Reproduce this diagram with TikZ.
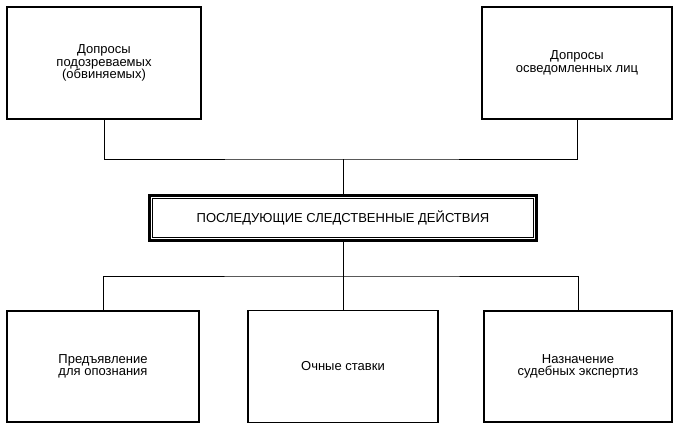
\documentclass[tikz,border=0pt]{standalone}
\usepackage{fontspec}
\setmainfont{Liberation Sans}
\begin{document}
\begin{tikzpicture}[x=1pt,y=-1pt,
  every node/.style={font=\fontsize{13}{12.5}\selectfont},
  boxnode/.style={draw,line width=1.1pt,inner sep=0pt,align=center,anchor=center},
  link/.style={line width=1pt}]
\useasboundingbox (0,0) rectangle (677,429);
\fill[white] (0,0) rectangle (677,429);
\node[boxnode,minimum width=194pt,minimum height=112pt] (tl) at (104,63) {Допросы\\подозреваемых\\(обвиняемых)};
\node[boxnode,minimum width=190pt,minimum height=112pt] (tr) at (577,63) {Допросы\\осведомленных лиц};
\node[draw,line width=3pt,inner sep=0pt,minimum width=387pt,minimum height=45pt,anchor=center] (c) at (343,218) {ПОСЛЕДУЮЩИЕ СЛЕДСТВЕННЫЕ ДЕЙСТВИЯ};
\draw[line width=1.1pt] ([xshift=4.8pt,yshift=-4.8pt]c.north west) rectangle ([xshift=-4.8pt,yshift=4.8pt]c.south east);
\node[boxnode,minimum width=192pt,minimum height=111pt] (bl) at (103,366.5) {Предъявление\\для опознания};
\node[boxnode,minimum width=190pt,minimum height=112pt] (bm) at (343,366.5) {Очные ставки};
\node[boxnode,minimum width=188pt,minimum height=111pt] (br) at (578,366.5) {Назначение\\судебных экспертиз};
\coordinate (hubtop) at (343,159);
\coordinate (hubbot) at (343,276);
\draw[link] (tl.south) |- (hubtop) -| (tr.south);
\draw[link] (hubtop) -- (c.north);
\draw[link] (c.south) -- (hubbot);
\draw[link] (bl.north) |- (hubbot) -| (br.north);
\draw[link] (hubbot) -- (bm.north);
\end{tikzpicture}
\end{document}
